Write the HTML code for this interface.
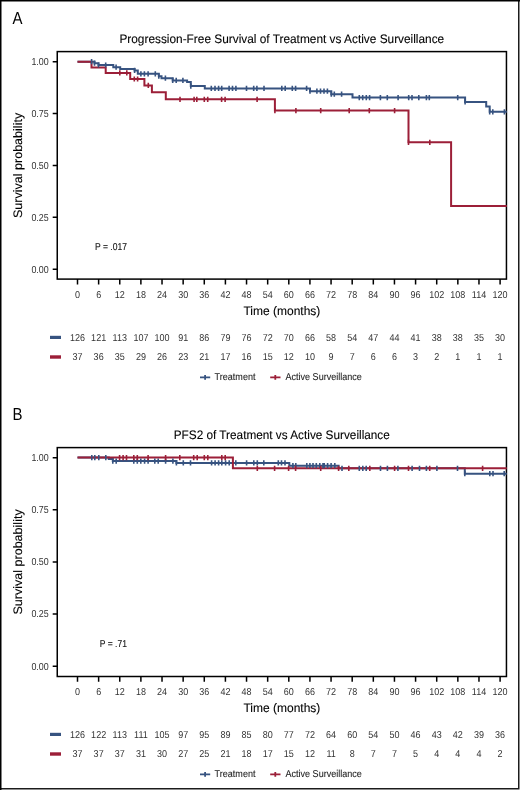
<!DOCTYPE html>
<html><head><meta charset="utf-8"><title>Kaplan-Meier curves</title>
<style>
html,body{margin:0;padding:0;background:#fff;}
body{width:520px;height:790px;overflow:hidden;font-family:"Liberation Sans",sans-serif;}
svg{display:block;will-change:transform;text-rendering:geometricPrecision;font-family:"Liberation Sans",sans-serif;}
</style></head><body>
<svg width="520" height="790" viewBox="0 0 520 790">
<rect x="0" y="0" width="520" height="790" fill="#fff"/>
<path d="M518.75 0V788.75H0" fill="none" stroke="#1c1c1c" stroke-width="1.5"/>
<path d="M0.75 790V0.75H520" fill="none" stroke="#000" stroke-width="1.5"/>
<text transform="translate(12.6 23.8) scale(0.860 1)" font-size="17.4" fill="#000">A</text>
<text transform="translate(281.8 43.3) scale(0.964 1)" font-size="12.3" text-anchor="middle" fill="#000" stroke="#000" stroke-width="0.1">Progression-Free Survival of Treatment vs Active Surveillance</text>
<rect x="57.25" y="51.6" width="449.2" height="227.5" fill="none" stroke="#000" stroke-width="1.5"/>
<text transform="translate(48.7 65.05) scale(0.880 1)" font-size="10.1" text-anchor="end" fill="#333">1.00</text>
<text transform="translate(48.7 116.92) scale(0.880 1)" font-size="10.1" text-anchor="end" fill="#333">0.75</text>
<text transform="translate(48.7 168.8) scale(0.880 1)" font-size="10.1" text-anchor="end" fill="#333">0.50</text>
<text transform="translate(48.7 220.67) scale(0.880 1)" font-size="10.1" text-anchor="end" fill="#333">0.25</text>
<text transform="translate(48.7 272.55) scale(0.880 1)" font-size="10.1" text-anchor="end" fill="#333">0.00</text>
<text transform="translate(77.5 298) scale(0.900 1)" font-size="10" text-anchor="middle" fill="#333">0</text>
<text transform="translate(98.63 298) scale(0.900 1)" font-size="10" text-anchor="middle" fill="#333">6</text>
<text transform="translate(119.76 298) scale(0.900 1)" font-size="10" text-anchor="middle" fill="#333">12</text>
<text transform="translate(140.89 298) scale(0.900 1)" font-size="10" text-anchor="middle" fill="#333">18</text>
<text transform="translate(162.02 298) scale(0.900 1)" font-size="10" text-anchor="middle" fill="#333">24</text>
<text transform="translate(183.15 298) scale(0.900 1)" font-size="10" text-anchor="middle" fill="#333">30</text>
<text transform="translate(204.28 298) scale(0.900 1)" font-size="10" text-anchor="middle" fill="#333">36</text>
<text transform="translate(225.41 298) scale(0.900 1)" font-size="10" text-anchor="middle" fill="#333">42</text>
<text transform="translate(246.54 298) scale(0.900 1)" font-size="10" text-anchor="middle" fill="#333">48</text>
<text transform="translate(267.67 298) scale(0.900 1)" font-size="10" text-anchor="middle" fill="#333">54</text>
<text transform="translate(288.8 298) scale(0.900 1)" font-size="10" text-anchor="middle" fill="#333">60</text>
<text transform="translate(309.93 298) scale(0.900 1)" font-size="10" text-anchor="middle" fill="#333">66</text>
<text transform="translate(331.06 298) scale(0.900 1)" font-size="10" text-anchor="middle" fill="#333">72</text>
<text transform="translate(352.19 298) scale(0.900 1)" font-size="10" text-anchor="middle" fill="#333">78</text>
<text transform="translate(373.32 298) scale(0.900 1)" font-size="10" text-anchor="middle" fill="#333">84</text>
<text transform="translate(394.45 298) scale(0.900 1)" font-size="10" text-anchor="middle" fill="#333">90</text>
<text transform="translate(415.58 298) scale(0.900 1)" font-size="10" text-anchor="middle" fill="#333">96</text>
<text transform="translate(436.71 298) scale(0.900 1)" font-size="10" text-anchor="middle" fill="#333">102</text>
<text transform="translate(457.84 298) scale(0.900 1)" font-size="10" text-anchor="middle" fill="#333">108</text>
<text transform="translate(478.97 298) scale(0.900 1)" font-size="10" text-anchor="middle" fill="#333">114</text>
<text transform="translate(500.1 298) scale(0.900 1)" font-size="10" text-anchor="middle" fill="#333">120</text>
<path d="M52.7 61.7H57M52.7 113.58H57M52.7 165.45H57M52.7 217.32H57M52.7 269.2H57M77.5 279.1V284.4M98.63 279.1V284.4M119.76 279.1V284.4M140.89 279.1V284.4M162.02 279.1V284.4M183.15 279.1V284.4M204.28 279.1V284.4M225.41 279.1V284.4M246.54 279.1V284.4M267.67 279.1V284.4M288.8 279.1V284.4M309.93 279.1V284.4M331.06 279.1V284.4M352.19 279.1V284.4M373.32 279.1V284.4M394.45 279.1V284.4M415.58 279.1V284.4M436.71 279.1V284.4M457.84 279.1V284.4M478.97 279.1V284.4M500.1 279.1V284.4" stroke="#000" stroke-width="1.5" fill="none"/>
<text transform="translate(281.9 315) scale(0.976 1)" font-size="12.3" text-anchor="middle" fill="#000" stroke="#000" stroke-width="0.1">Time (months)</text>
<text transform="translate(21.6 165.45) rotate(-90) scale(1.020 1)" font-size="12.3" text-anchor="middle" fill="#000" stroke="#000" stroke-width="0.1">Survival probability</text>
<text transform="translate(95 249.8) scale(0.855 1)" font-size="10" fill="#111" stroke="#111" stroke-width="0.12">P = .017</text>
<path d="M77.5 61.7H94.5V63.2H98.5V65H113.3V67.2H120.2V69H134.6V70.4H137.8V73.8H158.8V76.2H161.5V78.2H172.7V80.4H187.1V82H190.8V86.1H204.8V88.4H310V91.2H331.3V94.2H352.5V97.6H465.1V102H486.2V106.6H489.7V111.8H506.8" stroke="#375380" stroke-width="2" fill="none"/>
<path d="M77.5 61.7H91.5V67.6H105.7V72.9H130.2V79H144.4V85.4H151.9V92.3H165.8V99.3H274.9V110.6H408.5V142.3H451.1V206H506.8" stroke="#9c1f38" stroke-width="2" fill="none"/>
<path d="M91.6 59.1v5.2M94.5 60.6v5.2M98.5 62.4v5.2M105.7 62.4v5.2M116.1 64.6v5.2M134.6 67.8v5.2M140.9 71.2v5.2M144.4 71.2v5.2M148.1 71.2v5.2M155.3 71.2v5.2M158.8 73.6v5.2M165.4 75.6v5.2M172.7 77.8v5.2M176.2 77.8v5.2M182.9 77.8v5.2M190.8 83.5v5.2M211.3 85.8v5.2M215 85.8v5.2M218.6 85.8v5.2M221.7 85.8v5.2M229.1 85.8v5.2M232.5 85.8v5.2M235.9 85.8v5.2M246.5 85.8v5.2M253.7 85.8v5.2M256.9 85.8v5.2M264 85.8v5.2M281.8 85.8v5.2M285.2 85.8v5.2M292.3 85.8v5.2M295.6 85.8v5.2M306.6 85.8v5.2M310 88.6v5.2M316.9 88.6v5.2M320.5 88.6v5.2M324 88.6v5.2M327.4 88.6v5.2M331.3 91.6v5.2M334.3 91.6v5.2M341.6 91.6v5.2M359.3 95v5.2M362.7 95v5.2M366.3 95v5.2M369.6 95v5.2M380.4 95v5.2M387.3 95v5.2M398.1 95v5.2M408.7 95v5.2M412 95v5.2M418.8 95v5.2M426.4 95v5.2M429.3 95v5.2M457.7 95v5.2M465.1 99.4v5.2M489.7 109.2v5.2M492.8 109.2v5.2M504.4 109.2v5.2" stroke="#375380" stroke-width="1.6" fill="none"/>
<path d="M119.8 70.3v5.2M126.8 70.3v5.2M134.3 76.4v5.2M137.6 76.4v5.2M148.3 82.8v5.2M180 96.7v5.2M194.1 96.7v5.2M196.8 96.7v5.2M204.3 96.7v5.2M207.7 96.7v5.2M221.6 96.7v5.2M225.1 96.7v5.2M257.1 96.7v5.2M274.9 108v5.2M295.9 108v5.2M320.7 108v5.2M349.2 108v5.2M369.3 108v5.2M394.6 108v5.2M408.5 139.7v5.2M429.8 139.7v5.2" stroke="#9c1f38" stroke-width="1.6" fill="none"/>
<rect x="50" y="335.8" width="11" height="3.2" fill="#375380"/>
<rect x="50" y="355.3" width="11" height="3.4" fill="#9c1f38"/>
<text transform="translate(77.5 340.8) scale(0.900 1)" font-size="10" text-anchor="middle" fill="#333">126</text>
<text transform="translate(77.5 360.4) scale(0.900 1)" font-size="10" text-anchor="middle" fill="#333">37</text>
<text transform="translate(98.63 340.8) scale(0.900 1)" font-size="10" text-anchor="middle" fill="#333">121</text>
<text transform="translate(98.63 360.4) scale(0.900 1)" font-size="10" text-anchor="middle" fill="#333">36</text>
<text transform="translate(119.76 340.8) scale(0.900 1)" font-size="10" text-anchor="middle" fill="#333">113</text>
<text transform="translate(119.76 360.4) scale(0.900 1)" font-size="10" text-anchor="middle" fill="#333">35</text>
<text transform="translate(140.89 340.8) scale(0.900 1)" font-size="10" text-anchor="middle" fill="#333">107</text>
<text transform="translate(140.89 360.4) scale(0.900 1)" font-size="10" text-anchor="middle" fill="#333">29</text>
<text transform="translate(162.02 340.8) scale(0.900 1)" font-size="10" text-anchor="middle" fill="#333">100</text>
<text transform="translate(162.02 360.4) scale(0.900 1)" font-size="10" text-anchor="middle" fill="#333">26</text>
<text transform="translate(183.15 340.8) scale(0.900 1)" font-size="10" text-anchor="middle" fill="#333">91</text>
<text transform="translate(183.15 360.4) scale(0.900 1)" font-size="10" text-anchor="middle" fill="#333">23</text>
<text transform="translate(204.28 340.8) scale(0.900 1)" font-size="10" text-anchor="middle" fill="#333">86</text>
<text transform="translate(204.28 360.4) scale(0.900 1)" font-size="10" text-anchor="middle" fill="#333">21</text>
<text transform="translate(225.41 340.8) scale(0.900 1)" font-size="10" text-anchor="middle" fill="#333">79</text>
<text transform="translate(225.41 360.4) scale(0.900 1)" font-size="10" text-anchor="middle" fill="#333">17</text>
<text transform="translate(246.54 340.8) scale(0.900 1)" font-size="10" text-anchor="middle" fill="#333">76</text>
<text transform="translate(246.54 360.4) scale(0.900 1)" font-size="10" text-anchor="middle" fill="#333">16</text>
<text transform="translate(267.67 340.8) scale(0.900 1)" font-size="10" text-anchor="middle" fill="#333">72</text>
<text transform="translate(267.67 360.4) scale(0.900 1)" font-size="10" text-anchor="middle" fill="#333">15</text>
<text transform="translate(288.8 340.8) scale(0.900 1)" font-size="10" text-anchor="middle" fill="#333">70</text>
<text transform="translate(288.8 360.4) scale(0.900 1)" font-size="10" text-anchor="middle" fill="#333">12</text>
<text transform="translate(309.93 340.8) scale(0.900 1)" font-size="10" text-anchor="middle" fill="#333">66</text>
<text transform="translate(309.93 360.4) scale(0.900 1)" font-size="10" text-anchor="middle" fill="#333">10</text>
<text transform="translate(331.06 340.8) scale(0.900 1)" font-size="10" text-anchor="middle" fill="#333">58</text>
<text transform="translate(331.06 360.4) scale(0.900 1)" font-size="10" text-anchor="middle" fill="#333">9</text>
<text transform="translate(352.19 340.8) scale(0.900 1)" font-size="10" text-anchor="middle" fill="#333">54</text>
<text transform="translate(352.19 360.4) scale(0.900 1)" font-size="10" text-anchor="middle" fill="#333">7</text>
<text transform="translate(373.32 340.8) scale(0.900 1)" font-size="10" text-anchor="middle" fill="#333">47</text>
<text transform="translate(373.32 360.4) scale(0.900 1)" font-size="10" text-anchor="middle" fill="#333">6</text>
<text transform="translate(394.45 340.8) scale(0.900 1)" font-size="10" text-anchor="middle" fill="#333">44</text>
<text transform="translate(394.45 360.4) scale(0.900 1)" font-size="10" text-anchor="middle" fill="#333">6</text>
<text transform="translate(415.58 340.8) scale(0.900 1)" font-size="10" text-anchor="middle" fill="#333">41</text>
<text transform="translate(415.58 360.4) scale(0.900 1)" font-size="10" text-anchor="middle" fill="#333">3</text>
<text transform="translate(436.71 340.8) scale(0.900 1)" font-size="10" text-anchor="middle" fill="#333">38</text>
<text transform="translate(436.71 360.4) scale(0.900 1)" font-size="10" text-anchor="middle" fill="#333">2</text>
<text transform="translate(457.84 340.8) scale(0.900 1)" font-size="10" text-anchor="middle" fill="#333">38</text>
<text transform="translate(457.84 360.4) scale(0.900 1)" font-size="10" text-anchor="middle" fill="#333">1</text>
<text transform="translate(478.97 340.8) scale(0.900 1)" font-size="10" text-anchor="middle" fill="#333">35</text>
<text transform="translate(478.97 360.4) scale(0.900 1)" font-size="10" text-anchor="middle" fill="#333">1</text>
<text transform="translate(500.1 340.8) scale(0.900 1)" font-size="10" text-anchor="middle" fill="#333">30</text>
<text transform="translate(500.1 360.4) scale(0.900 1)" font-size="10" text-anchor="middle" fill="#333">1</text>
<path d="M200 377.4H210.2M205.1 375.1v4.6" stroke="#375380" stroke-width="1.8" fill="none"/>
<path d="M270.2 377.4H280.5M275.3 375.1v4.6" stroke="#9c1f38" stroke-width="1.8" fill="none"/>
<text transform="translate(214.6 379.5) scale(0.915 1)" font-size="9.9" fill="#1a1a1a" stroke="#1a1a1a" stroke-width="0.08">Treatment</text>
<text transform="translate(285.5 379.5) scale(0.915 1)" font-size="9.9" fill="#1a1a1a" stroke="#1a1a1a" stroke-width="0.08">Active Surveillance</text>
<text transform="translate(12.6 419.8) scale(0.860 1)" font-size="17.4" fill="#000">B</text>
<text transform="translate(281.75 439.3) scale(0.958 1)" font-size="12.3" text-anchor="middle" fill="#000" stroke="#000" stroke-width="0.1">PFS2 of Treatment vs Active Surveillance</text>
<rect x="57.25" y="447.6" width="449.2" height="228.9" fill="none" stroke="#000" stroke-width="1.5"/>
<text transform="translate(48.7 461.05) scale(0.880 1)" font-size="10.1" text-anchor="end" fill="#333">1.00</text>
<text transform="translate(48.7 513.17) scale(0.880 1)" font-size="10.1" text-anchor="end" fill="#333">0.75</text>
<text transform="translate(48.7 565.3) scale(0.880 1)" font-size="10.1" text-anchor="end" fill="#333">0.50</text>
<text transform="translate(48.7 617.43) scale(0.880 1)" font-size="10.1" text-anchor="end" fill="#333">0.25</text>
<text transform="translate(48.7 669.55) scale(0.880 1)" font-size="10.1" text-anchor="end" fill="#333">0.00</text>
<text transform="translate(77.5 695) scale(0.900 1)" font-size="10" text-anchor="middle" fill="#333">0</text>
<text transform="translate(98.63 695) scale(0.900 1)" font-size="10" text-anchor="middle" fill="#333">6</text>
<text transform="translate(119.76 695) scale(0.900 1)" font-size="10" text-anchor="middle" fill="#333">12</text>
<text transform="translate(140.89 695) scale(0.900 1)" font-size="10" text-anchor="middle" fill="#333">18</text>
<text transform="translate(162.02 695) scale(0.900 1)" font-size="10" text-anchor="middle" fill="#333">24</text>
<text transform="translate(183.15 695) scale(0.900 1)" font-size="10" text-anchor="middle" fill="#333">30</text>
<text transform="translate(204.28 695) scale(0.900 1)" font-size="10" text-anchor="middle" fill="#333">36</text>
<text transform="translate(225.41 695) scale(0.900 1)" font-size="10" text-anchor="middle" fill="#333">42</text>
<text transform="translate(246.54 695) scale(0.900 1)" font-size="10" text-anchor="middle" fill="#333">48</text>
<text transform="translate(267.67 695) scale(0.900 1)" font-size="10" text-anchor="middle" fill="#333">54</text>
<text transform="translate(288.8 695) scale(0.900 1)" font-size="10" text-anchor="middle" fill="#333">60</text>
<text transform="translate(309.93 695) scale(0.900 1)" font-size="10" text-anchor="middle" fill="#333">66</text>
<text transform="translate(331.06 695) scale(0.900 1)" font-size="10" text-anchor="middle" fill="#333">72</text>
<text transform="translate(352.19 695) scale(0.900 1)" font-size="10" text-anchor="middle" fill="#333">78</text>
<text transform="translate(373.32 695) scale(0.900 1)" font-size="10" text-anchor="middle" fill="#333">84</text>
<text transform="translate(394.45 695) scale(0.900 1)" font-size="10" text-anchor="middle" fill="#333">90</text>
<text transform="translate(415.58 695) scale(0.900 1)" font-size="10" text-anchor="middle" fill="#333">96</text>
<text transform="translate(436.71 695) scale(0.900 1)" font-size="10" text-anchor="middle" fill="#333">102</text>
<text transform="translate(457.84 695) scale(0.900 1)" font-size="10" text-anchor="middle" fill="#333">108</text>
<text transform="translate(478.97 695) scale(0.900 1)" font-size="10" text-anchor="middle" fill="#333">114</text>
<text transform="translate(500.1 695) scale(0.900 1)" font-size="10" text-anchor="middle" fill="#333">120</text>
<path d="M52.7 457.7H57M52.7 509.82H57M52.7 561.95H57M52.7 614.08H57M52.7 666.2H57M77.5 676.5V681.8M98.63 676.5V681.8M119.76 676.5V681.8M140.89 676.5V681.8M162.02 676.5V681.8M183.15 676.5V681.8M204.28 676.5V681.8M225.41 676.5V681.8M246.54 676.5V681.8M267.67 676.5V681.8M288.8 676.5V681.8M309.93 676.5V681.8M331.06 676.5V681.8M352.19 676.5V681.8M373.32 676.5V681.8M394.45 676.5V681.8M415.58 676.5V681.8M436.71 676.5V681.8M457.84 676.5V681.8M478.97 676.5V681.8M500.1 676.5V681.8" stroke="#000" stroke-width="1.5" fill="none"/>
<text transform="translate(281.9 712) scale(0.976 1)" font-size="12.3" text-anchor="middle" fill="#000" stroke="#000" stroke-width="0.1">Time (months)</text>
<text transform="translate(21.6 561.95) rotate(-90) scale(1.020 1)" font-size="12.3" text-anchor="middle" fill="#000" stroke="#000" stroke-width="0.1">Survival probability</text>
<text transform="translate(99.8 646.7) scale(0.855 1)" font-size="10" fill="#111" stroke="#111" stroke-width="0.12">P = .71</text>
<path d="M77.5 457.6H108.8V459H112.8V461.1H176.4V462.9H289.3V465.7H338.6V468.3H464.8V473.7H506.8" stroke="#375380" stroke-width="2" fill="none"/>
<path d="M77.5 457.6H232.9V468.3H506.8" stroke="#9c1f38" stroke-width="2" fill="none"/>
<path d="M91.8 455v5.2M94.8 455v5.2M98.8 455v5.2M105.8 455v5.2M112.8 458.5v5.2M116.2 458.5v5.2M133.8 458.5v5.2M137.3 458.5v5.2M140.8 458.5v5.2M144.6 458.5v5.2M148.1 458.5v5.2M154.8 458.5v5.2M158.2 458.5v5.2M165.6 458.5v5.2M172.9 458.5v5.2M176.4 460.3v5.2M183.3 460.3v5.2M190.5 460.3v5.2M211.6 460.3v5.2M215.1 460.3v5.2M218.6 460.3v5.2M221.8 460.3v5.2M225.6 460.3v5.2M229.2 460.3v5.2M235.8 460.3v5.2M246.6 460.3v5.2M253.8 460.3v5.2M257.3 460.3v5.2M263.8 460.3v5.2M278.3 460.3v5.2M281.5 460.3v5.2M285 460.3v5.2M292.9 463.1v5.2M295.8 463.1v5.2M306.8 463.1v5.2M309.9 463.1v5.2M313 463.1v5.2M316.3 463.1v5.2M319.8 463.1v5.2M323 463.1v5.2M324.2 463.1v5.2M327.6 463.1v5.2M331.1 463.1v5.2M334.8 463.1v5.2M342 465.7v5.2M359.3 465.7v5.2M362.8 465.7v5.2M366.2 465.7v5.2M380.5 465.7v5.2M387.4 465.7v5.2M397.9 465.7v5.2M412.1 465.7v5.2M419.5 465.7v5.2M426.4 465.7v5.2M436.9 465.7v5.2M457.5 465.7v5.2M464.8 471.1v5.2M489.8 471.1v5.2M493 471.1v5.2M504.2 471.1v5.2" stroke="#375380" stroke-width="1.6" fill="none"/>
<path d="M119.6 455v5.2M123.1 455v5.2M126.5 455v5.2M133.8 455v5.2M137.3 455v5.2M148.1 455v5.2M165.6 455v5.2M179.8 455v5.2M193.7 455v5.2M197.2 455v5.2M204.3 455v5.2M207.8 455v5.2M221.8 455v5.2M225.2 455v5.2M257.3 465.7v5.2M274.6 465.7v5.2M288.6 465.7v5.2M295.6 465.7v5.2M320.7 465.7v5.2M338.6 465.7v5.2M348.8 465.7v5.2M369.8 465.7v5.2M394.6 465.7v5.2M408.5 465.7v5.2M429.7 465.7v5.2M482.6 465.7v5.2" stroke="#9c1f38" stroke-width="1.6" fill="none"/>
<rect x="50" y="732.8" width="11" height="3.2" fill="#375380"/>
<rect x="50" y="752.3" width="11" height="3.4" fill="#9c1f38"/>
<text transform="translate(77.5 737.8) scale(0.900 1)" font-size="10" text-anchor="middle" fill="#333">126</text>
<text transform="translate(77.5 757.4) scale(0.900 1)" font-size="10" text-anchor="middle" fill="#333">37</text>
<text transform="translate(98.63 737.8) scale(0.900 1)" font-size="10" text-anchor="middle" fill="#333">122</text>
<text transform="translate(98.63 757.4) scale(0.900 1)" font-size="10" text-anchor="middle" fill="#333">37</text>
<text transform="translate(119.76 737.8) scale(0.900 1)" font-size="10" text-anchor="middle" fill="#333">113</text>
<text transform="translate(119.76 757.4) scale(0.900 1)" font-size="10" text-anchor="middle" fill="#333">37</text>
<text transform="translate(140.89 737.8) scale(0.900 1)" font-size="10" text-anchor="middle" fill="#333">111</text>
<text transform="translate(140.89 757.4) scale(0.900 1)" font-size="10" text-anchor="middle" fill="#333">31</text>
<text transform="translate(162.02 737.8) scale(0.900 1)" font-size="10" text-anchor="middle" fill="#333">105</text>
<text transform="translate(162.02 757.4) scale(0.900 1)" font-size="10" text-anchor="middle" fill="#333">30</text>
<text transform="translate(183.15 737.8) scale(0.900 1)" font-size="10" text-anchor="middle" fill="#333">97</text>
<text transform="translate(183.15 757.4) scale(0.900 1)" font-size="10" text-anchor="middle" fill="#333">27</text>
<text transform="translate(204.28 737.8) scale(0.900 1)" font-size="10" text-anchor="middle" fill="#333">95</text>
<text transform="translate(204.28 757.4) scale(0.900 1)" font-size="10" text-anchor="middle" fill="#333">25</text>
<text transform="translate(225.41 737.8) scale(0.900 1)" font-size="10" text-anchor="middle" fill="#333">89</text>
<text transform="translate(225.41 757.4) scale(0.900 1)" font-size="10" text-anchor="middle" fill="#333">21</text>
<text transform="translate(246.54 737.8) scale(0.900 1)" font-size="10" text-anchor="middle" fill="#333">85</text>
<text transform="translate(246.54 757.4) scale(0.900 1)" font-size="10" text-anchor="middle" fill="#333">18</text>
<text transform="translate(267.67 737.8) scale(0.900 1)" font-size="10" text-anchor="middle" fill="#333">80</text>
<text transform="translate(267.67 757.4) scale(0.900 1)" font-size="10" text-anchor="middle" fill="#333">17</text>
<text transform="translate(288.8 737.8) scale(0.900 1)" font-size="10" text-anchor="middle" fill="#333">77</text>
<text transform="translate(288.8 757.4) scale(0.900 1)" font-size="10" text-anchor="middle" fill="#333">15</text>
<text transform="translate(309.93 737.8) scale(0.900 1)" font-size="10" text-anchor="middle" fill="#333">72</text>
<text transform="translate(309.93 757.4) scale(0.900 1)" font-size="10" text-anchor="middle" fill="#333">12</text>
<text transform="translate(331.06 737.8) scale(0.900 1)" font-size="10" text-anchor="middle" fill="#333">64</text>
<text transform="translate(331.06 757.4) scale(0.900 1)" font-size="10" text-anchor="middle" fill="#333">11</text>
<text transform="translate(352.19 737.8) scale(0.900 1)" font-size="10" text-anchor="middle" fill="#333">60</text>
<text transform="translate(352.19 757.4) scale(0.900 1)" font-size="10" text-anchor="middle" fill="#333">8</text>
<text transform="translate(373.32 737.8) scale(0.900 1)" font-size="10" text-anchor="middle" fill="#333">54</text>
<text transform="translate(373.32 757.4) scale(0.900 1)" font-size="10" text-anchor="middle" fill="#333">7</text>
<text transform="translate(394.45 737.8) scale(0.900 1)" font-size="10" text-anchor="middle" fill="#333">50</text>
<text transform="translate(394.45 757.4) scale(0.900 1)" font-size="10" text-anchor="middle" fill="#333">7</text>
<text transform="translate(415.58 737.8) scale(0.900 1)" font-size="10" text-anchor="middle" fill="#333">46</text>
<text transform="translate(415.58 757.4) scale(0.900 1)" font-size="10" text-anchor="middle" fill="#333">5</text>
<text transform="translate(436.71 737.8) scale(0.900 1)" font-size="10" text-anchor="middle" fill="#333">43</text>
<text transform="translate(436.71 757.4) scale(0.900 1)" font-size="10" text-anchor="middle" fill="#333">4</text>
<text transform="translate(457.84 737.8) scale(0.900 1)" font-size="10" text-anchor="middle" fill="#333">42</text>
<text transform="translate(457.84 757.4) scale(0.900 1)" font-size="10" text-anchor="middle" fill="#333">4</text>
<text transform="translate(478.97 737.8) scale(0.900 1)" font-size="10" text-anchor="middle" fill="#333">39</text>
<text transform="translate(478.97 757.4) scale(0.900 1)" font-size="10" text-anchor="middle" fill="#333">4</text>
<text transform="translate(500.1 737.8) scale(0.900 1)" font-size="10" text-anchor="middle" fill="#333">36</text>
<text transform="translate(500.1 757.4) scale(0.900 1)" font-size="10" text-anchor="middle" fill="#333">2</text>
<path d="M200 774.4H210.2M205.1 772.1v4.6" stroke="#375380" stroke-width="1.8" fill="none"/>
<path d="M270.2 774.4H280.5M275.3 772.1v4.6" stroke="#9c1f38" stroke-width="1.8" fill="none"/>
<text transform="translate(214.6 776.5) scale(0.915 1)" font-size="9.9" fill="#1a1a1a" stroke="#1a1a1a" stroke-width="0.08">Treatment</text>
<text transform="translate(285.5 776.5) scale(0.915 1)" font-size="9.9" fill="#1a1a1a" stroke="#1a1a1a" stroke-width="0.08">Active Surveillance</text>
</svg>
</body></html>
